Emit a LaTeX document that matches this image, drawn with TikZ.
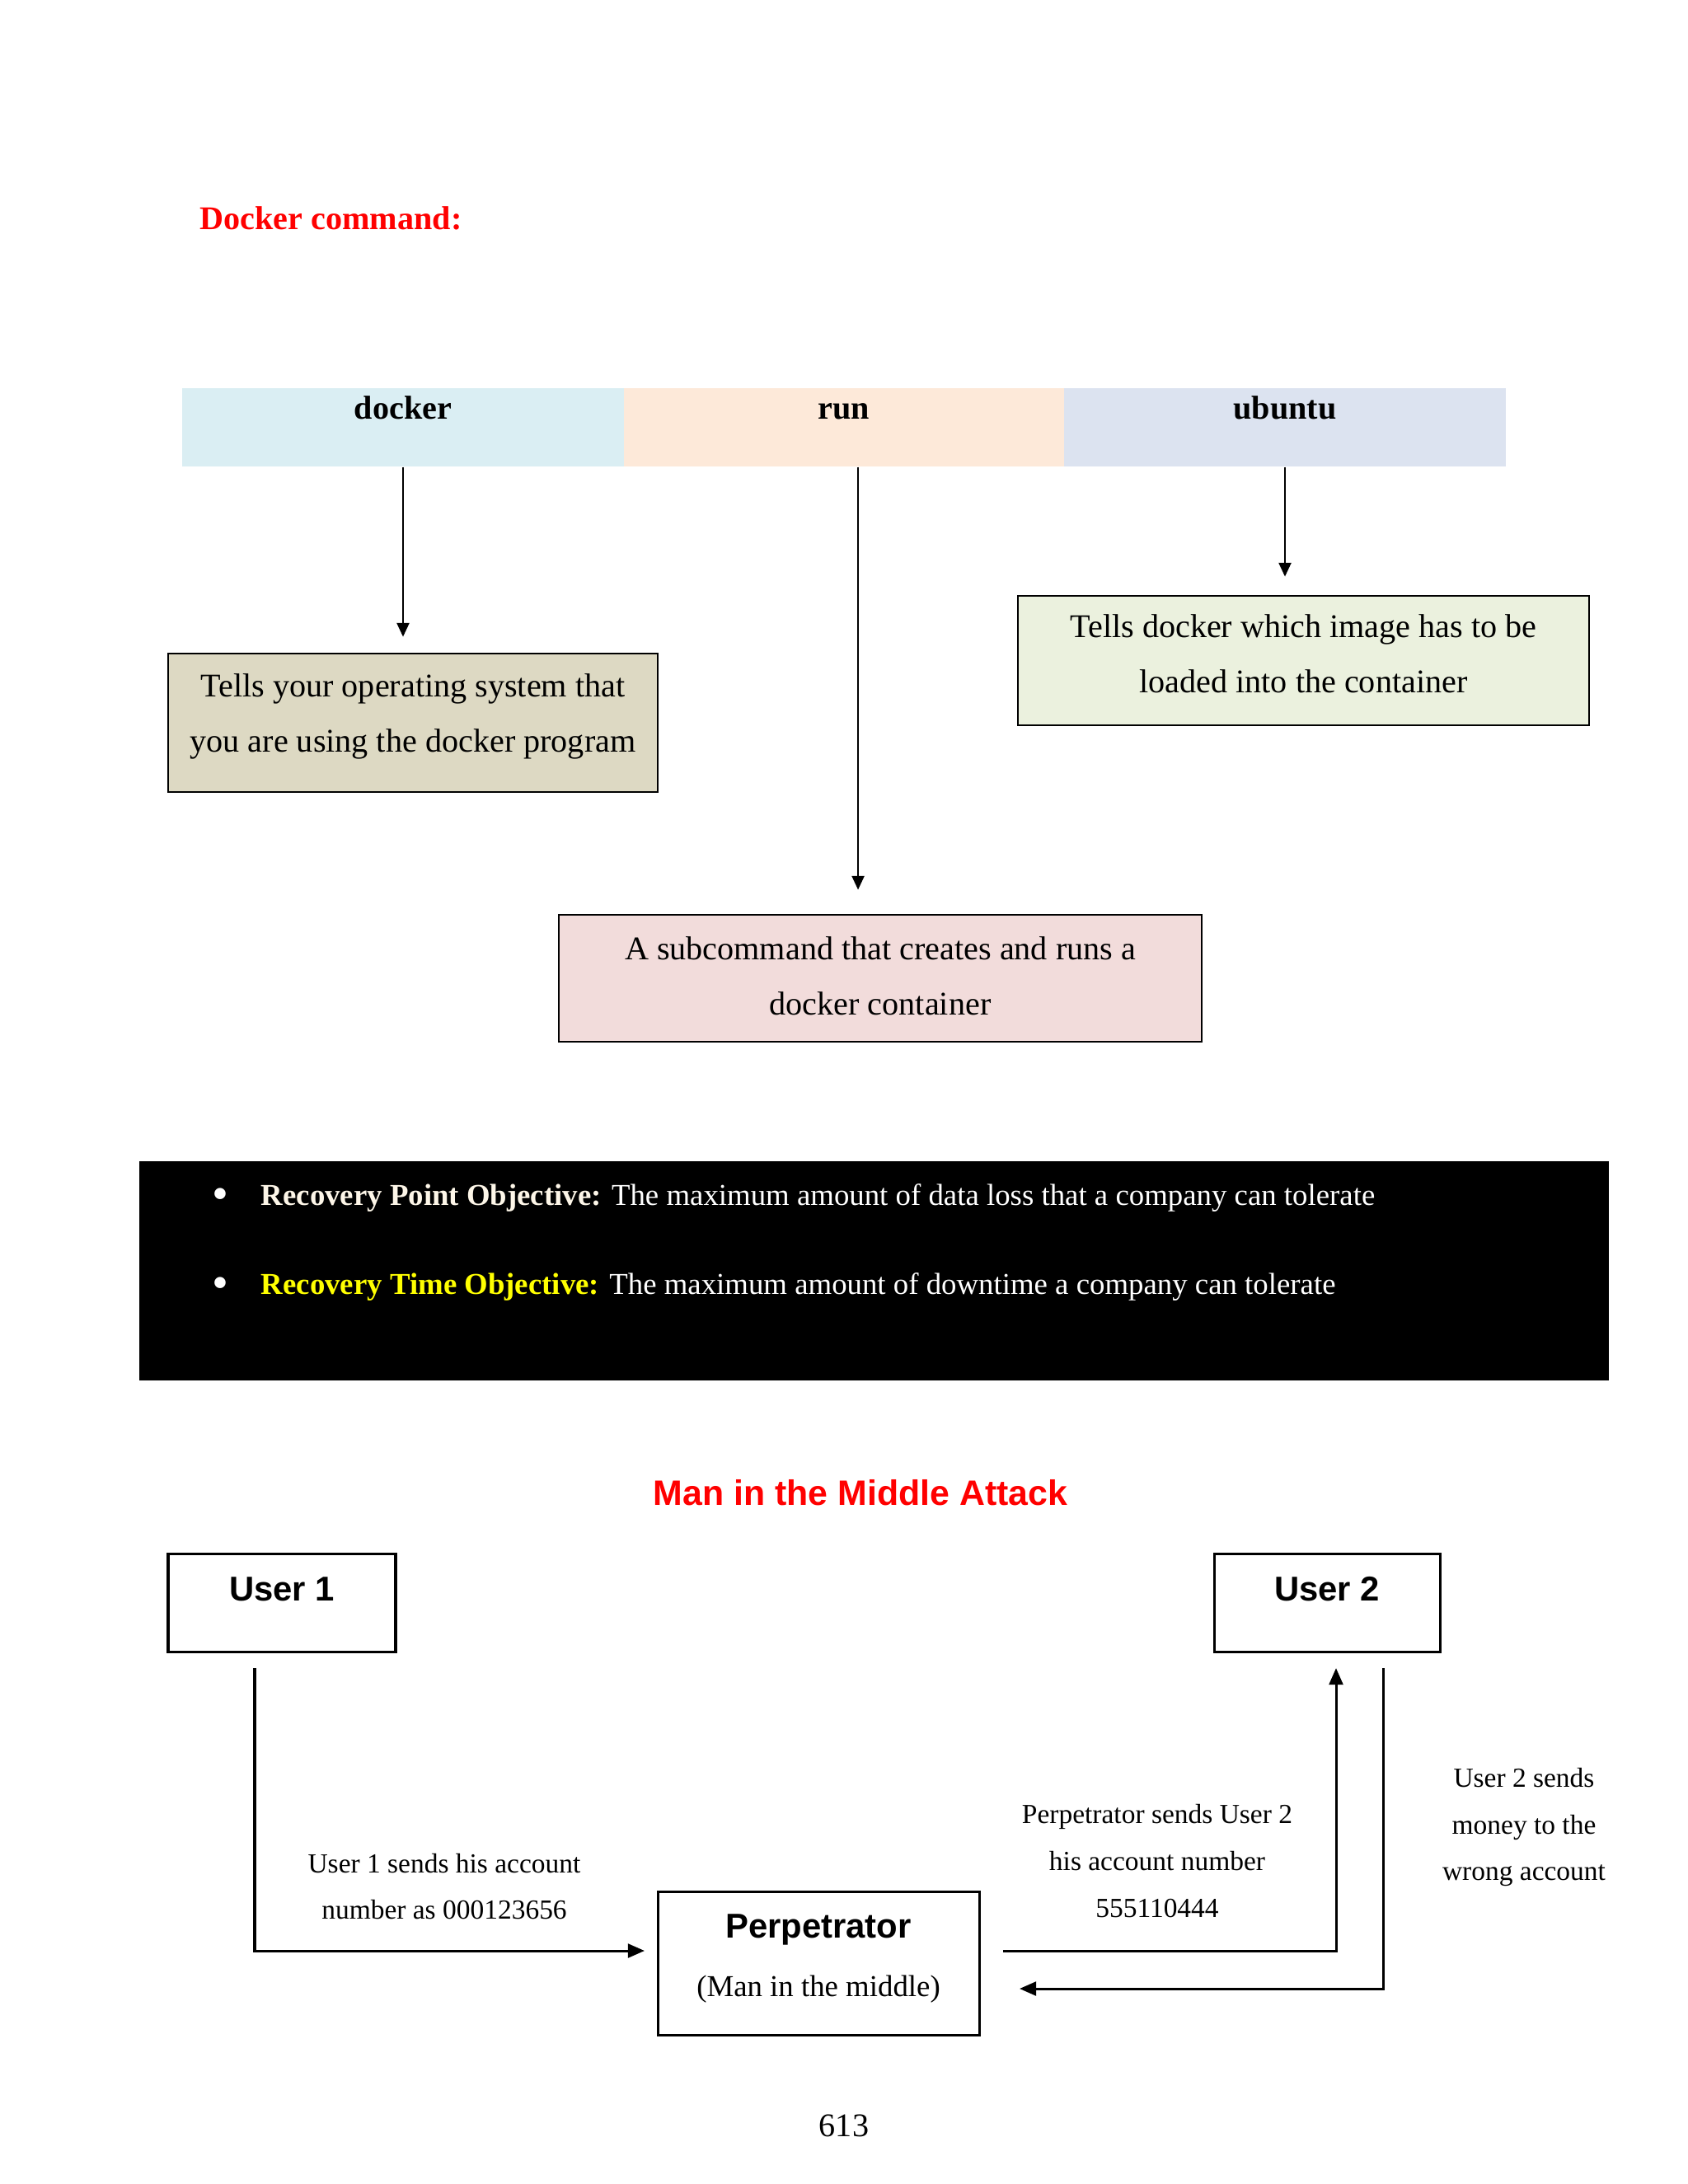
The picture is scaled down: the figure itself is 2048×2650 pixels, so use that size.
\documentclass[tikz,border=0pt]{standalone}
\usepackage{fontspec}
\setmainfont{Liberation Serif}
\setsansfont{Liberation Sans}
\usetikzlibrary{arrows.meta}
\def\u{0.29883pt}
\definecolor{cD}{RGB}{218,238,243}
\definecolor{cR}{RGB}{253,233,217}
\definecolor{cU}{RGB}{220,227,240}
\definecolor{fD}{RGB}{221,217,195}
\definecolor{fU}{RGB}{235,241,222}
\definecolor{fR}{RGB}{242,220,219}
\definecolor{cream}{RGB}{253,246,232}
\definecolor{yel}{RGB}{255,255,0}
\definecolor{tred}{RGB}{255,0,0}
\newcommand{\twolines}[3]{\raisebox{#1}[\height][\depth]{\begin{tabular}{@{}c@{}}#2\\#3\end{tabular}}}
\newcommand{\bigbul}{\raisebox{-1.6pt}{\fontsize{17}{17}\selectfont\textbullet}}
\begin{document}
\begin{tikzpicture}[x=0.29883pt,y=-0.29883pt,
  cell/.style={minimum width=536*\u, minimum height=95*\u, inner sep=0pt, text height=11.1pt, text depth=17.2pt, font=\bfseries\fontsize{12}{14}\selectfont},
  desc/.style={draw=black, line width=0.8pt, inner sep=0pt, font=\fontsize{12}{20}\selectfont},
  arr/.style={-{Triangle[length=5pt,width=4.5pt]}, line width=0.6pt},
  marr/.style={-{Triangle[length=6pt,width=5pt]}, line width=0.9pt},
  userbox/.style={draw=black, line width=0.9pt, minimum width=276*\u, minimum height=118*\u, inner sep=0pt, text height=16.9pt, text depth=18.4pt, font=\sffamily\bfseries\fontsize{12.5}{14}\selectfont},
  lab/.style={align=center, font=\fontsize{10}{17}\selectfont},
  bul/.style={anchor=west, inner sep=0pt, text=white, font=\fontsize{11}{13}\selectfont}
]
\useasboundingbox (0,0) rectangle (2048,2650);
\fill[white] (0,0) rectangle (2048,2650);

% Docker title
\node[anchor=west, inner sep=0pt, text=tred, font=\bfseries\fontsize{12}{14}\selectfont] (title) at (242,265) {Docker command:};

% command cells
\node[cell, fill=cD] (cellD) at (489,518.5) {docker};
\node[cell, fill=cR, minimum width=534*\u] (cellR) at (1024,518.5) {run};
\node[cell, fill=cU] (cellU) at (1559,518.5) {ubuntu};

% description boxes
\node[desc, fill=fD, minimum width=594*\u, minimum height=168*\u] (dbox) at (501,877) {\twolines{3.3pt}{Tells your operating system that}{you are using the docker program}};
\node[desc, fill=fU, minimum width=693*\u, minimum height=157*\u] (ubox) at (1581.5,801.5) {\twolines{2.3pt}{Tells docker which image has to be}{loaded into the container}};
\node[desc, fill=fR, minimum width=780*\u, minimum height=154*\u] (rbox) at (1068,1187) {\twolines{0.8pt}{A subcommand that creates and runs a}{docker container}};

% arrows
\draw[arr, shorten >=5.7pt] (cellD.south) -- (cellD.south |- dbox.north);
\draw[arr, shorten >=6.6pt] (cellU.south) -- (cellU.south |- ubox.north);
\draw[arr, shorten >=8.7pt] ([xshift=5.1pt]cellR.south) -- ([xshift=5.1pt]cellR.south |- rbox.north);

% black box
\node[fill=black, minimum width=1783*\u, minimum height=266*\u, inner sep=0pt] (blk) at (1060.5,1542) {};
\node[bul] (rpo) at (257,1453) {\makebox[17.7pt][l]{\bigbul}{\bfseries\color{cream}Recovery Point Objective:} The maximum amount of data loss that a company can tolerate};
\node[bul] (rto) at (257,1561) {\makebox[17.7pt][l]{\bigbul}{\bfseries\color{yel}Recovery Time Objective:} The maximum amount of downtime a company can tolerate};

% MITM
\node[text=tred, inner sep=0pt, font=\sffamily\bfseries\fontsize{12.8}{15}\selectfont] (mitm) at (1044,1811) {Man in the Middle Attack};
\node[userbox] (u1) at (342,1945) {User 1};
\node[userbox, minimum width=274*\u] (u2) at (1610,1945) {User 2};
\node[draw=black, line width=0.9pt, minimum width=390*\u, minimum height=174*\u, inner sep=0pt] (perp) at (993,2382)
  {\raisebox{1pt}[\height][\depth]{\begin{tabular}{@{}c@{}}{\sffamily\bfseries\fontsize{12.5}{14}\selectfont Perpetrator}\\[9pt]{\fontsize{11}{13}\selectfont (Man in the middle)}\end{tabular}}};

\coordinate (a1s) at (309,2024);
\coordinate (a1e) at (782,2367);
\coordinate (a2s) at (1217,2367);
\coordinate (a2e) at (1621,2024);
\coordinate (a3s) at (1678,2024);
\coordinate (a3e) at (1237,2413);
\draw[marr] (a1s) |- (a1e);
\draw[marr] (a2s) -| (a2e);
\draw[marr] (a3s) |- (a3e);

\node[lab] (l1) at (539,2289) {User 1 sends his account\\number as 000123656};
\node[lab] (l2) at (1404,2258) {Perpetrator sends User 2\\his account number\\555110444};
\node[lab] (l3) at (1849,2217) {User 2 sends\\money to the\\wrong account};

\node[font=\fontsize{12}{14}\selectfont] (pg) at (1024,2579) {613};
\end{tikzpicture}
\end{document}
